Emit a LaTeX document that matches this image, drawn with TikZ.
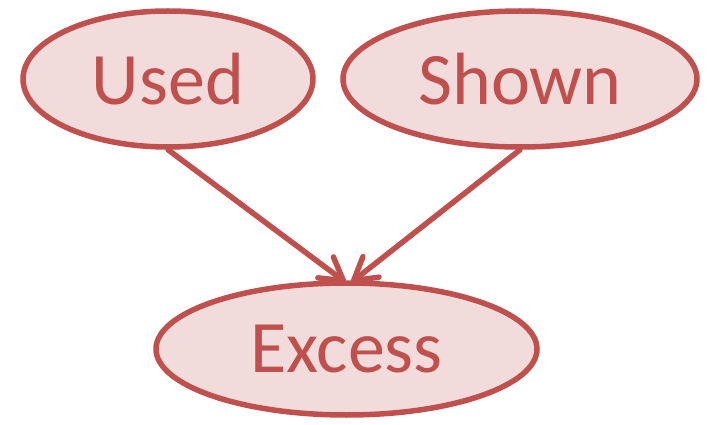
\documentclass[tikz,border=0pt]{standalone}
\usepackage{fontspec}
\setmainfont{Carlito}
\usetikzlibrary{shapes.geometric,arrows.meta}
\definecolor{strokered}{HTML}{C0504D}
\definecolor{fillpink}{HTML}{F2DCDB}
\tikzset{
  oval/.style={ellipse, draw=strokered, fill=fillpink, line width=5.5pt, inner sep=0pt,
    text=strokered, font=\fontsize{74}{90}\selectfont},
  link/.style={draw=strokered, line width=5.5pt, line cap=round,
    -{Straight Barb[round, length=22pt, width=26pt]}}
}
\begin{document}
\begin{tikzpicture}[x=1pt,y=-1pt]
\useasboundingbox (0,0) rectangle (710,425);
\node[oval, minimum width=290pt, minimum height=136pt] (used) at (168,79) {Used};
\node[oval, minimum width=354pt, minimum height=136pt] (shown) at (520,79) {Shown};
\node[oval, minimum width=381pt, minimum height=132pt] (excess) at (346.5,349) {Excess};
\draw[link] (used.south) -- ([xshift=-1pt,yshift=-2pt]excess.north);
\draw[link] (shown.south) -- ([xshift=5pt,yshift=-2pt]excess.north);
\end{tikzpicture}
\end{document}
